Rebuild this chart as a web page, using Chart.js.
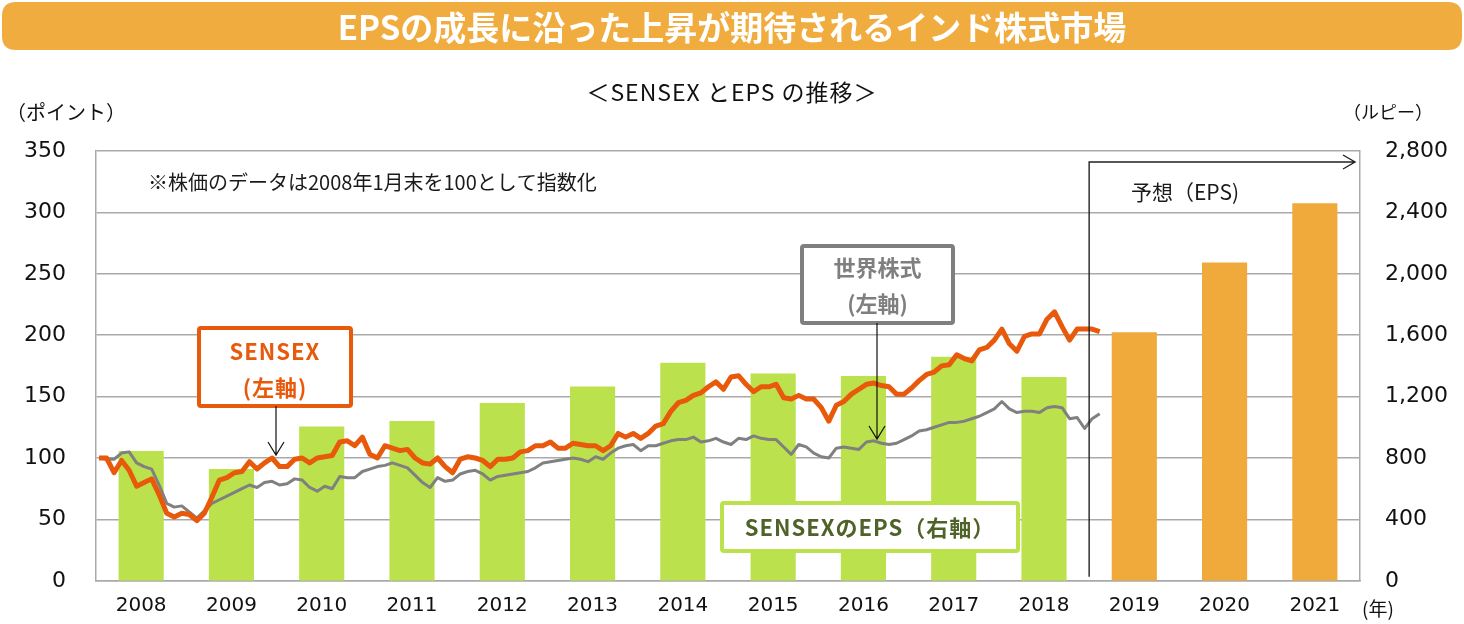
<!DOCTYPE html>
<html>
<head>
<meta charset="utf-8">
<script src="https://cdn.jsdelivr.net/npm/chart.js@4.4.1/dist/chart.umd.min.js"></script>
<style>
  html, body { margin: 0; padding: 0; background: #ffffff; }
  body { width: 1464px; height: 624px; overflow: hidden; position: relative; }
  #c { position: absolute; left: 0; top: 0; }
</style>
</head>
<body>
<canvas id="c" width="1464" height="624"></canvas>
<script>
// ---- Data ----
const years = ['2008','2009','2010','2011','2012','2013','2014','2015','2016','2017','2018','2019','2020','2021'];
const forecastFrom = '2019';
// SENSEX EPS (rupee, right axis)
const eps = [845, 728, 1005, 1041, 1158, 1266, 1421, 1351, 1335, 1460, 1328, 1620, 2074, 2460];
// Monthly index, Jan 2008 = 100 (left axis), Jan 2008 .. Feb 2019
const sensex = [
  100,100, 88, 98, 90, 77, 80, 83, 70, 55, 52, 55,
   54, 49, 55, 68, 82, 84, 88, 89, 97, 91, 96,100,
   93, 93, 99,100, 96,100,101,102,113,114,110,117,
  103,100,110,108,106,107,100, 96, 95,100, 93, 88,
   99,101,100, 98, 93, 99, 99,100,105,106,110,110,
  113,108,108,112,111,110,110,106,110,120,117,120,
  116,120,126,128,138,145,147,151,153,158,162,156,
  166,167,160,154,158,158,160,149,148,151,148,148,
  141,130,143,146,152,156,160,161,159,158,152,152,
  157,163,168,170,175,176,184,181,179,188,190,196,
  205,193,187,199,201,201,213,219,207,196,205,205,
  205,203
];
const world = [
  100, 99, 99,104,105, 96, 93, 91, 78, 63, 60, 61,
   56, 51, 57, 63, 66, 69, 72, 75, 78, 76, 80, 81,
   78, 79, 83, 82, 76, 73, 77, 75, 85, 84, 84, 89,
   91, 93, 94, 96, 94, 92, 86, 80, 76, 84, 81, 82,
   87, 89, 90, 87, 82, 85, 86, 87, 88, 89, 92, 96,
   97, 98, 99,100, 99, 97,101, 99,104,108,110,111,
  106,110,110,112,114,115,115,117,113,114,116,113,
  111,116,115,118,116,115,115,109,103,111,109,104,
  101,100,108,109,108,107,113,114,112,111,112,115,
  118,122,123,125,127,129,129,130,132,134,137,140,
  146,140,137,138,138,137,141,142,141,132,133,124,
  132,136
];
const leftTicks = [0, 50, 100, 150, 200, 250, 300, 350];
const rightTicks = [0, 400, 800, 1200, 1600, 2000, 2400, 2800];

// ---- Style ----
const ORANGE_LINE = '#E8590C';
const GRAY_LINE = '#808080';
const GREEN_BAR = '#BBE24C';
const ORANGE_BAR = '#F0AA3C';
const GRID = '#A9A9A9';
const JP = '"Noto Sans CJK JP", "Noto Sans", sans-serif';
const NUM = '"DejaVu Sans", sans-serif';
const MONTH_OFFSET = 0.4;

const monthly = arr => arr.map((v, i) => ({ x: (i + MONTH_OFFSET) / 12, y: v }));
const barColors = years.map(y => (Number(y) >= Number(forecastFrom) ? ORANGE_BAR : GREEN_BAR));

function roundRect(c, x, y, w, h, r) {
  c.beginPath();
  c.moveTo(x + r, y);
  c.lineTo(x + w - r, y);
  c.quadraticCurveTo(x + w, y, x + w, y + r);
  c.lineTo(x + w, y + h - r);
  c.quadraticCurveTo(x + w, y + h, x + w - r, y + h);
  c.lineTo(x + r, y + h);
  c.quadraticCurveTo(x, y + h, x, y + h - r);
  c.lineTo(x, y + r);
  c.quadraticCurveTo(x, y, x + r, y);
  c.closePath();
}

function arrowDown(c, x, y1, y2) {
  c.save();
  c.strokeStyle = '#111';
  c.lineWidth = 1.2;
  c.beginPath();
  c.moveTo(x, y1); c.lineTo(x, y2);
  c.moveTo(x - 8, y2 - 13); c.lineTo(x, y2); c.lineTo(x + 8, y2 - 13);
  c.stroke();
  c.restore();
}

function labelBox(c, x, y, w, h, border, lines, color, font, spacing) {
  c.save();
  roundRect(c, x, y, w, h, 2);
  c.fillStyle = '#ffffff';
  c.fill();
  c.lineWidth = 4;
  c.strokeStyle = border;
  c.stroke();
  c.fillStyle = color;
  c.font = font;
  c.letterSpacing = spacing || '0px';
  c.textAlign = 'center';
  c.textBaseline = 'middle';
  lines.forEach(l => c.fillText(l.t, x + w / 2, l.y));
  c.restore();
}

const decor = {
  id: 'decor',
  beforeDraw(chart) {
    const c = chart.ctx;
    c.save();
    c.fillStyle = '#ffffff';
    c.fillRect(0, 0, chart.width, chart.height);
    // title banner
    roundRect(c, 2, 2, 1460, 48, 14);
    c.fillStyle = '#F0AC3E';
    c.fill();
    c.fillStyle = '#ffffff';
    c.font = 'bold 33px ' + JP;
    c.textAlign = 'center';
    c.textBaseline = 'middle';
    c.fillText('EPSの成長に沿った上昇が期待されるインド株式市場', 732, 27);
    // subtitle
    c.fillStyle = '#111';
    c.font = '23px ' + JP;
    c.letterSpacing = '1px';
    c.fillText('＜SENSEX とEPS の推移＞', 732, 92);
    c.letterSpacing = '0px';
    // axis units
    c.textAlign = 'left';
    c.font = '20px ' + JP;
    c.fillText('（ポイント）', 6, 112);
    c.font = '18px ' + JP;
    c.fillText('（ルピー）', 1343, 112);
    c.restore();
  },
  afterDatasetsDraw(chart) {
    const c = chart.ctx;
    const xs = chart.scales.x;
    const area = chart.chartArea;
    c.save();
    // note
    c.fillStyle = '#1a1a1a';
    c.font = '20px ' + JP;
    c.textAlign = 'left';
    c.textBaseline = 'middle';
    c.fillText('※株価のデータは2008年1月末を100として指数化', 148, 182);

    // forecast divider
    const idx = years.indexOf(forecastFrom);
    const vx = (xs.getPixelForValue(idx - 1) + xs.getPixelForValue(idx)) / 2;
    c.strokeStyle = '#222';
    c.lineWidth = 1.4;
    c.beginPath();
    c.moveTo(vx, area.bottom - 4);
    c.lineTo(vx, 162);
    c.lineTo(area.right - 5, 162);
    c.moveTo(area.right - 17, 155);
    c.lineTo(area.right - 5, 162);
    c.lineTo(area.right - 17, 169);
    c.stroke();
    c.fillStyle = '#1a1a1a';
    c.font = '21px ' + JP;
    c.fillText('予想（EPS)', 1131, 192);

    // callouts
    labelBox(c, 199, 328, 152, 78, ORANGE_LINE,
      [{ t: 'SENSEX', y: 352 }, { t: '(左軸)', y: 388 }], ORANGE_LINE, 'bold 22px ' + JP, '1px');
    arrowDown(c, 276, 406, 455);

    labelBox(c, 802, 246, 151, 77, '#7F7F7F',
      [{ t: '世界株式', y: 268 }, { t: '(左軸)', y: 304 }], '#7F7F7F', 'bold 22px ' + JP, '0px');
    arrowDown(c, 877, 323, 439);

    labelBox(c, 722, 503, 296, 48, GREEN_BAR,
      [{ t: 'SENSEXのEPS（右軸）', y: 528 }], '#4F6228', 'bold 22px ' + JP, '1px');

    // year unit
    c.fillStyle = '#111';
    c.font = '19px ' + JP;
    c.textAlign = 'left';
    c.fillText('(年)', 1362, 609);
    c.restore();
  }
};

new Chart(document.getElementById('c'), {
  type: 'bar',
  data: {
    labels: years,
    datasets: [
      {
        type: 'line', label: 'SENSEX', data: monthly(sensex),
        xAxisID: 'xl', yAxisID: 'y',
        borderColor: ORANGE_LINE, borderWidth: 5, pointRadius: 0,
        tension: 0, borderJoinStyle: 'round', order: 0
      },
      {
        type: 'line', label: '世界株式', data: monthly(world),
        xAxisID: 'xl', yAxisID: 'y',
        borderColor: GRAY_LINE, borderWidth: 3, pointRadius: 0,
        tension: 0, borderJoinStyle: 'round', order: 1
      },
      {
        type: 'bar', label: 'SENSEXのEPS', data: eps,
        xAxisID: 'x', yAxisID: 'y1',
        backgroundColor: barColors, borderWidth: 0, grouped: false,
        barPercentage: 0.5, categoryPercentage: 1, order: 2
      }
    ]
  },
  options: {
    responsive: false,
    animation: false,
    events: [],
    layout: { padding: { top: 151, left: 0, right: 0, bottom: 0 } },
    plugins: { legend: { display: false }, tooltip: { enabled: false } },
    scales: {
      x: {
        type: 'category', position: 'bottom', offset: true, stacked: false,
        grid: { display: false, drawTicks: false },
        border: { display: true, color: GRID, width: 1.5 },
        ticks: { font: { family: NUM, size: 20 }, color: '#111', padding: 13, maxRotation: 0, autoSkip: false },
        afterFit(s) { s.height = 42; }
      },
      xl: { type: 'linear', position: 'bottom', min: 0, max: 14, offset: false, display: false, grid: { offset: false } },
      y: {
        position: 'left', min: 0, max: 350,
        afterBuildTicks(s) { s.ticks = leftTicks.map(v => ({ value: v })); },
        ticks: { font: { family: NUM, size: 22 }, color: '#111', padding: 30 },
        grid: { color: GRID, lineWidth: 1.5, drawTicks: false },
        border: { display: true, color: GRID, width: 1.5 },
        afterFit(s) { s.width = 96; }
      },
      y1: {
        position: 'right', min: 0, max: 2800,
        afterBuildTicks(s) { s.ticks = rightTicks.map(v => ({ value: v })); },
        ticks: {
          font: { family: NUM, size: 22 }, color: '#111', padding: 25,
          callback: v => v.toLocaleString('en-US')
        },
        grid: { display: false, drawTicks: false },
        border: { display: true, color: GRID, width: 1.5 },
        afterFit(s) { s.width = 104; }
      }
    }
  },
  plugins: [decor]
});
</script>
</body>
</html>
